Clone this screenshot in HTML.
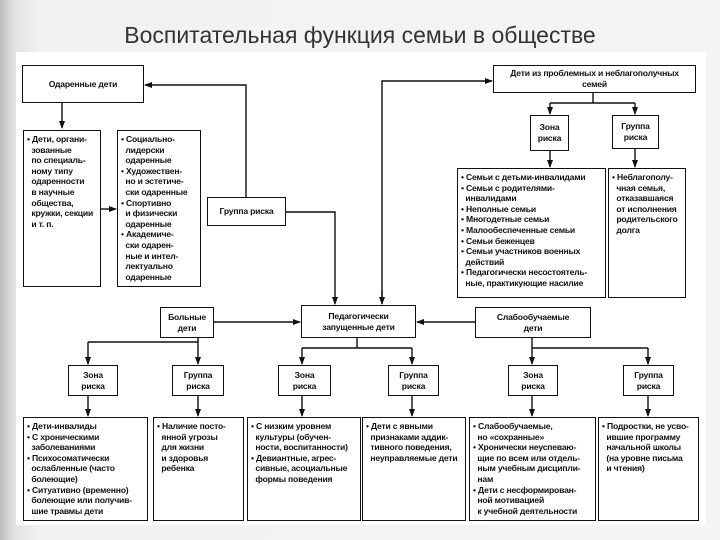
<!DOCTYPE html>
<html><head><meta charset="utf-8"><style>
body{margin:0;width:720px;height:540px;overflow:hidden;background:linear-gradient(90deg,#bdbdbd 0,#e2e2e2 14px,#f2f2f2 40px,#f4f4f4 100%);font-family:"Liberation Sans",sans-serif;position:relative}
.t{position:absolute;left:0;width:720px;top:22px;text-align:center;font-size:23px;color:#333}
.w{position:absolute;left:16px;top:52px;width:690px;height:473px;background:#fff}
.b{position:absolute;border:1.5px solid #111;box-sizing:border-box;font-size:8.6px;line-height:10.6px;color:#111;font-weight:bold;letter-spacing:-0.2px}
.c{display:flex;align-items:center;justify-content:center;text-align:center;font-weight:600}
.l{padding:3px 3px}
svg{position:absolute;left:0;top:0}
</style></head><body>
<div class="t">Воспитательная функция семьи в обществе</div>
<div class="w"></div>
<svg width="720" height="540"><defs><marker id="a" markerWidth="8" markerHeight="8" refX="7" refY="4" orient="auto" markerUnits="userSpaceOnUse"><path d="M0,1 L8,4 L0,7z" fill="#111"/></marker></defs>
<g stroke="#111" stroke-width="1.4" fill="none">
<path d="M246,197 V85 H145" marker-end="url(#a)"/>
<path d="M62,103 V128" marker-end="url(#a)"/>
<path d="M100,209 H116" marker-end="url(#a)"/>
<path d="M285,212 H335 V304" marker-end="url(#a)"/>
<path d="M382,304 V81 H492" marker-end="url(#a)"/>
<path d="M382,290 V304" marker-end="url(#a)"/>
<path d="M593,92 V103 M550,103 H635"/>
<path d="M550,103 V114" marker-end="url(#a)"/><path d="M635,103 V114" marker-end="url(#a)"/>
<path d="M550,150 V167" marker-end="url(#a)"/><path d="M635,148 V167" marker-end="url(#a)"/>
<path d="M213,322 H300" marker-end="url(#a)"/>
<path d="M475,322 H417" marker-end="url(#a)"/>
<path d="M198,337 V342 M88,342 H198"/>
<path d="M88,342 V364" marker-end="url(#a)"/><path d="M198,342 V364" marker-end="url(#a)"/>
<path d="M357,337 V348 M302,348 H412"/>
<path d="M302,348 V364" marker-end="url(#a)"/><path d="M412,348 V364" marker-end="url(#a)"/>
<path d="M532,337 V348 M532,348 H648"/>
<path d="M532,348 V364" marker-end="url(#a)"/><path d="M648,348 V364" marker-end="url(#a)"/>
<path d="M88,395 V416" marker-end="url(#a)"/><path d="M198,395 V416" marker-end="url(#a)"/>
<path d="M302,395 V416" marker-end="url(#a)"/><path d="M412,395 V416" marker-end="url(#a)"/>
<path d="M532,395 V416" marker-end="url(#a)"/><path d="M648,395 V416" marker-end="url(#a)"/>
</g></svg>
<div class="b c" style="left:22px;top:65px;width:122px;height:38px">Одаренные дети</div>
<div class="b l" style="left:23px;top:130px;width:78px;height:157px">• Дети, органи-<br>&nbsp;&nbsp;зованные<br>&nbsp;&nbsp;по специаль-<br>&nbsp;&nbsp;ному типу<br>&nbsp;&nbsp;одаренности<br>&nbsp;&nbsp;в научные<br>&nbsp;&nbsp;общества,<br>&nbsp;&nbsp;кружки, секции<br>&nbsp;&nbsp;и т. п.</div>
<div class="b l" style="left:117px;top:130px;width:84px;height:157px">• Социально-<br>&nbsp;&nbsp;лидерски<br>&nbsp;&nbsp;одаренные<br>• Художествен-<br>&nbsp;&nbsp;но и эстетиче-<br>&nbsp;&nbsp;ски одаренные<br>• Спортивно<br>&nbsp;&nbsp;и физически<br>&nbsp;&nbsp;одаренные<br>• Академиче-<br>&nbsp;&nbsp;ски одарен-<br>&nbsp;&nbsp;ные и интел-<br>&nbsp;&nbsp;лектуально<br>&nbsp;&nbsp;одаренные</div>
<div class="b c" style="left:207px;top:197px;width:79px;height:29px">Группа риска</div>
<div class="b c" style="left:493px;top:65px;width:203px;height:28px">Дети из проблемных и неблагополучных<br>семей</div>
<div class="b c" style="left:530px;top:115px;width:39px;height:36px">Зона<br>риска</div>
<div class="b c" style="left:612px;top:115px;width:47px;height:34px">Группа<br>риска</div>
<div class="b l" style="left:457px;top:168px;width:149px;height:130px">• Семьи с детьми-инвалидами<br>• Семьи с родителями-<br>&nbsp;&nbsp;инвалидами<br>• Неполные семьи<br>• Многодетные семьи<br>• Малообеспеченные семьи<br>• Семьи беженцев<br>• Семьи участников военных<br>&nbsp;&nbsp;действий<br>• Педагогически несостоятель-<br>&nbsp;&nbsp;ные, практикующие насилие</div>
<div class="b l" style="left:608px;top:168px;width:78px;height:130px">• Неблагополу-<br>&nbsp;&nbsp;чная семья,<br>&nbsp;&nbsp;отказавшаяся<br>&nbsp;&nbsp;от исполнения<br>&nbsp;&nbsp;родительского<br>&nbsp;&nbsp;долга</div>
<div class="b c" style="left:160px;top:307px;width:54px;height:31px">Больные<br>дети</div>
<div class="b c" style="left:301px;top:305px;width:115px;height:33px">Педагогически<br>запущенные дети</div>
<div class="b c" style="left:475px;top:307px;width:116px;height:31px">Слабообучаемые<br>дети</div>
<div class="b c" style="left:68px;top:365px;width:50px;height:31px">Зона<br>риска</div>
<div class="b c" style="left:172px;top:365px;width:52px;height:31px">Группа<br>риска</div>
<div class="b c" style="left:278px;top:365px;width:53px;height:31px">Зона<br>риска</div>
<div class="b c" style="left:388px;top:365px;width:51px;height:31px">Группа<br>риска</div>
<div class="b c" style="left:508px;top:365px;width:50px;height:31px">Зона<br>риска</div>
<div class="b c" style="left:623px;top:365px;width:51px;height:31px">Группа<br>риска</div>
<div class="b l" style="left:23px;top:417px;width:125px;height:104px">• Дети-инвалиды<br>• С хроническими<br>&nbsp;&nbsp;заболеваниями<br>• Психосоматически<br>&nbsp;&nbsp;ослабленные (часто<br>&nbsp;&nbsp;болеющие)<br>• Ситуативно (временно)<br>&nbsp;&nbsp;болеющие или получив-<br>&nbsp;&nbsp;шие травмы дети</div>
<div class="b l" style="left:153px;top:417px;width:91px;height:104px">• Наличие посто-<br>&nbsp;&nbsp;янной угрозы<br>&nbsp;&nbsp;для жизни<br>&nbsp;&nbsp;и здоровья<br>&nbsp;&nbsp;ребенка</div>
<div class="b l" style="left:247px;top:417px;width:114px;height:104px">• С низким уровнем<br>&nbsp;&nbsp;культуры (обучен-<br>&nbsp;&nbsp;ности, воспитанности)<br>• Девиантные, агрес-<br>&nbsp;&nbsp;сивные, асоциальные<br>&nbsp;&nbsp;формы поведения</div>
<div class="b l" style="left:362px;top:417px;width:104px;height:104px">• Дети с явными<br>&nbsp;&nbsp;признаками аддик-<br>&nbsp;&nbsp;тивного поведения,<br>&nbsp;&nbsp;неуправляемые дети</div>
<div class="b l" style="left:469px;top:417px;width:127px;height:104px">• Слабообучаемые,<br>&nbsp;&nbsp;но «сохранные»<br>• Хронически неуспеваю-<br>&nbsp;&nbsp;щие по всем или отдель-<br>&nbsp;&nbsp;ным учебным дисципли-<br>&nbsp;&nbsp;нам<br>• Дети с несформирован-<br>&nbsp;&nbsp;ной мотивацией<br>&nbsp;&nbsp;к учебной деятельности</div>
<div class="b l" style="left:598px;top:417px;width:101px;height:104px">• Подростки, не усво-<br>&nbsp;&nbsp;ившие программу<br>&nbsp;&nbsp;начальной школы<br>&nbsp;&nbsp;(на уровне письма<br>&nbsp;&nbsp;и чтения)</div>
</body></html>
